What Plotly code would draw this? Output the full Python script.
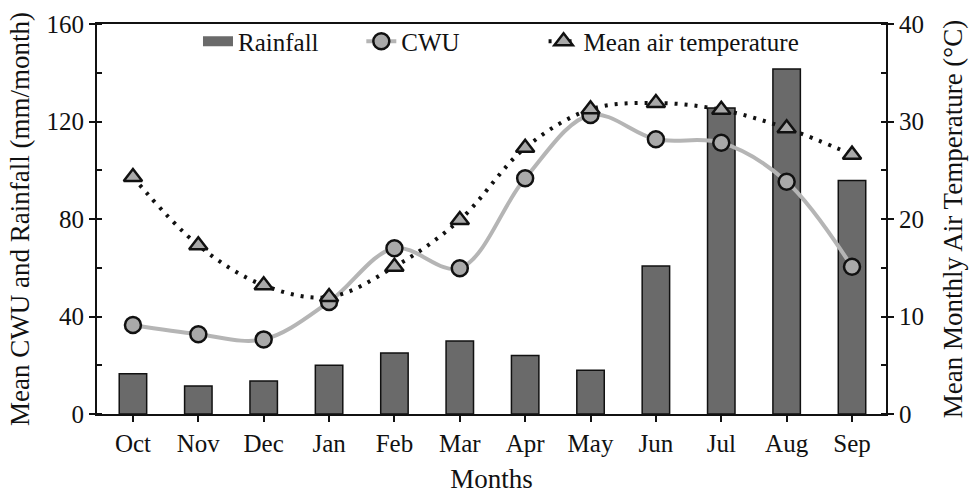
import plotly.graph_objects as go

months = ["Oct", "Nov", "Dec", "Jan", "Feb", "Mar", "Apr", "May", "Jun", "Jul", "Aug", "Sep"]
rainfall = [16.5, 11.5, 13.5, 20, 25, 30, 24, 18, 60.7, 125.5, 141.5, 95.8]
cwu = [36.5, 32.7, 30.6, 46, 68, 59.8, 96.7, 122.7, 112.7, 111.3, 95.3, 60.4]
temperature = [24.3, 17.3, 13.2, 12.0, 15.1, 19.9, 27.3, 31.25, 31.9, 31.2, 29.3, 26.6]

FONT = "Liberation Serif"
BAR_COLOR = "#6a6a6a"
GRAY = "#a9a9a9"
INK = "#111111"

fig = go.Figure()
fig.add_trace(go.Bar(
    x=months, y=rainfall, name="Rainfall", width=0.42, showlegend=False,
    marker=dict(color=BAR_COLOR, line=dict(color=INK, width=1.5)),
))
# legend-only entry giving the wide rectangular swatch for Rainfall
fig.add_trace(go.Scatter(
    x=[None], y=[None], name="Rainfall", mode="lines", legend="legend",
    line=dict(color=BAR_COLOR, width=13),
))
fig.add_trace(go.Scatter(
    x=months, y=cwu, name="CWU", mode="lines+markers", legend="legend2",
    line=dict(color="#b5b5b5", width=4, shape="spline", smoothing=1.0),
    marker=dict(symbol="circle", size=16, color=GRAY, line=dict(color=INK, width=2.5)),
))
fig.add_trace(go.Scatter(
    x=months, y=temperature, name="Mean air temperature", mode="lines+markers", yaxis="y2",
    legend="legend3",
    line=dict(color=INK, width=4, dash="3px,7px", shape="spline", smoothing=1.0),
    marker=dict(symbol="triangle-up", size=16, color=GRAY, line=dict(color=INK, width=2.5)),
))

leg_common = dict(orientation="h", yanchor="middle", xanchor="left", y=0.955,
                  bgcolor="rgba(0,0,0,0)", font=dict(family=FONT, size=25, color=INK))

fig.update_layout(
    width=972, height=494,
    margin=dict(l=97, r=86, t=24, b=80, autoexpand=False),
    paper_bgcolor="white", plot_bgcolor="white",
    font=dict(family=FONT, size=25, color=INK),
    showlegend=True,
    legend=dict(x=0.128, **leg_common),
    legend2=dict(x=0.335, **leg_common),
    legend3=dict(x=0.566, **leg_common),
    xaxis=dict(
        range=[-0.55, 11.52], showgrid=False, zeroline=False, automargin=False,
        showline=True, linecolor=INK, linewidth=2, mirror=True,
        ticks="outside", ticklen=6, tickwidth=2, tickcolor=INK,
        title=dict(text="Months", font=dict(size=27), standoff=14),
        tickfont=dict(size=25),
    ),
    yaxis=dict(
        range=[0, 160], dtick=40, showgrid=False, zeroline=False, automargin=False,
        showline=True, linecolor=INK, linewidth=2,
        ticks="outside", ticklen=6, tickwidth=2, tickcolor=INK,
        minor=dict(dtick=20, ticks="inside", ticklen=5, tickwidth=2, tickcolor=INK, showgrid=False),
        title=dict(text="Mean CWU and Rainfall (mm/month)", font=dict(size=27), standoff=9),
        tickfont=dict(size=25),
    ),
    yaxis2=dict(
        range=[0, 40], dtick=10, overlaying="y", side="right", showgrid=False, zeroline=False,
        automargin=False,
        showline=True, linecolor=INK, linewidth=2,
        ticks="outside", ticklen=6, tickwidth=2, tickcolor=INK,
        minor=dict(dtick=5, ticks="inside", ticklen=5, tickwidth=2, tickcolor=INK, showgrid=False),
        title=dict(text="Mean Monthly Air Temperature (°C)", font=dict(size=27), standoff=20),
        tickfont=dict(size=25),
    ),
)

fig.write_html("out.html", post_script="document.body.style.margin='0';",
               config={"displayModeBar": False})
